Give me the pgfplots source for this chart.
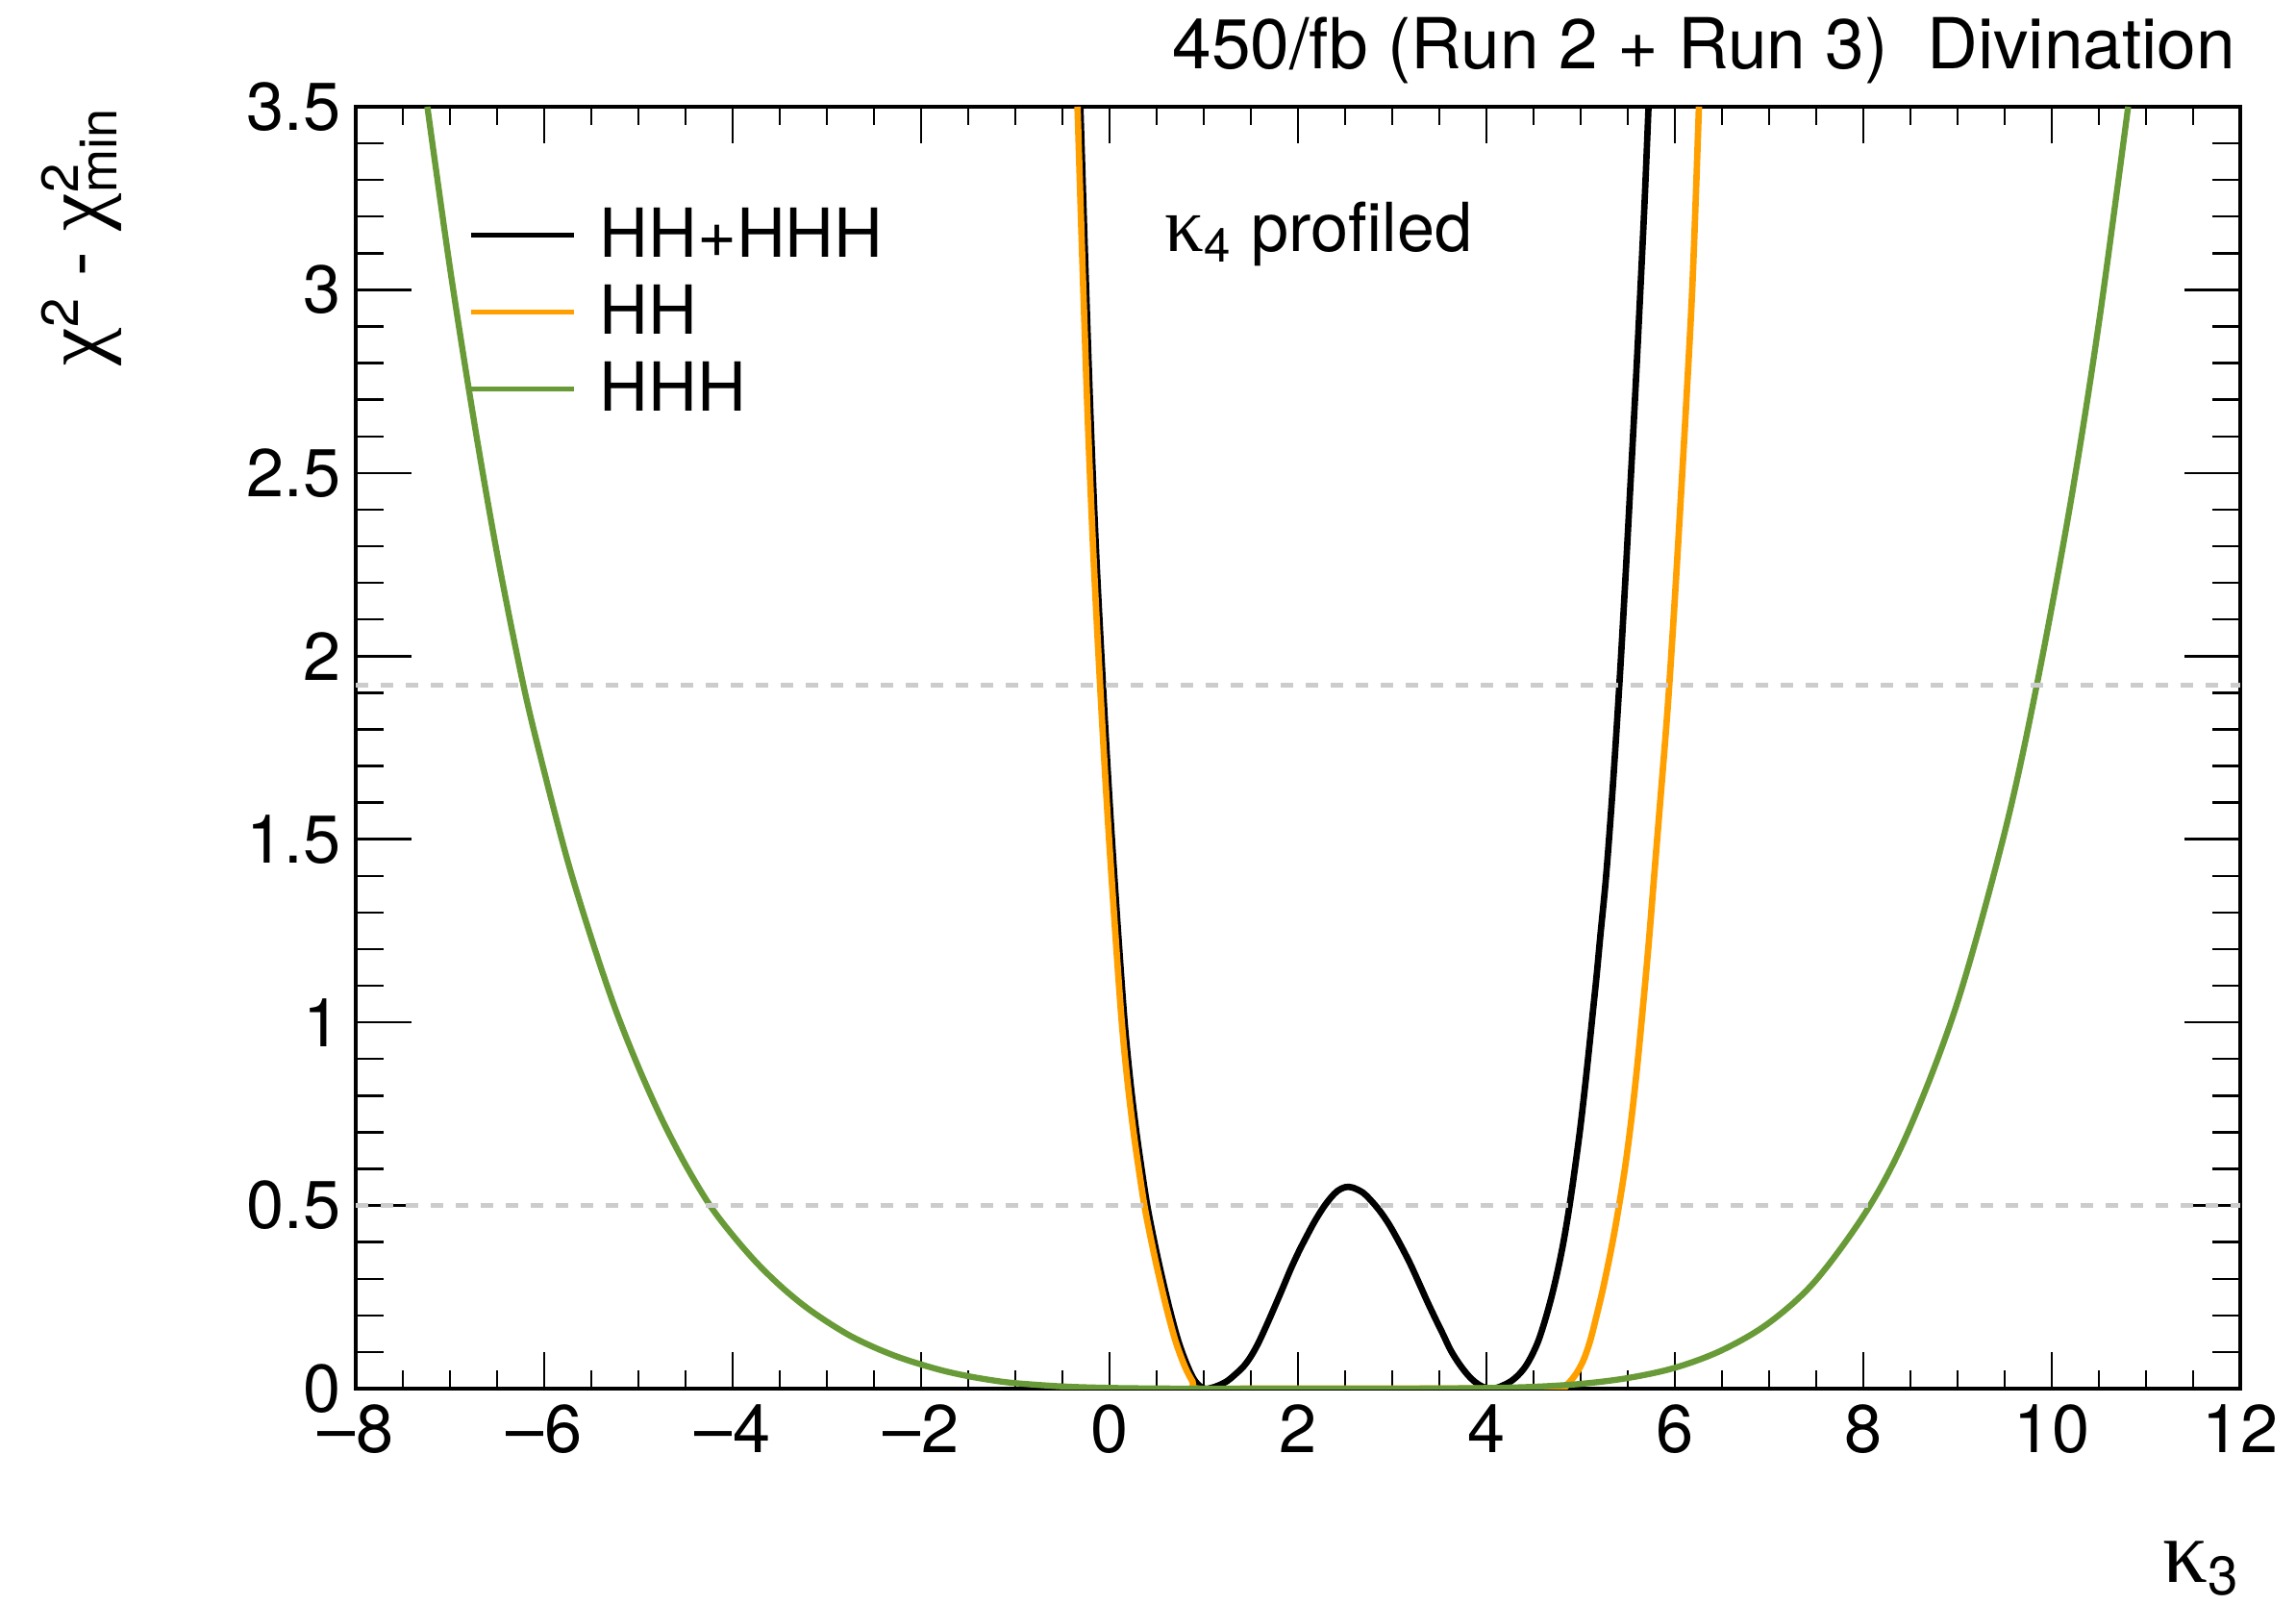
\documentclass[border=0pt]{standalone}
\usepackage{fontspec}
\setmainfont{TeX Gyre Heros}
\newfontfamily\greek[Scale=1.15]{Liberation Serif}
\usepackage{pgfplots}
\pgfplotsset{compat=1.18}
\definecolor{hhorange}{RGB}{255,159,0}
\definecolor{hhgreen}{RGB}{104,155,55}
\definecolor{dashgray}{RGB}{204,204,204}
\newcommand{\bigfont}{\fontsize{20}{24}\selectfont}

% HH+HHH
\pgfplotstableread{
k d
-0.31 3.50
-0.26 3.09
-0.20 2.64
-0.14 2.27
-0.07 1.92
-0.02 1.69
0.03 1.48
0.095 1.23
0.16 1.00
0.22 0.84
0.28 0.71
0.34 0.60
0.40 0.50
0.46 0.42
0.53 0.335
0.63 0.225
0.73 0.13
0.83 0.06
0.91 0.02
1.00 0.0
1.08 0.002
1.16 0.009
1.25 0.021
1.33 0.038
1.42 0.060
1.50 0.088
1.58 0.125
1.67 0.175
1.75 0.222
1.84 0.276
1.92 0.325
2.01 0.375
2.10 0.42
2.18 0.458
2.27 0.495
2.35 0.522
2.42 0.540
2.50 0.550
2.58 0.549
2.69 0.535
2.77 0.515
2.86 0.488
2.95 0.455
3.03 0.42
3.12 0.377
3.20 0.336
3.29 0.285
3.37 0.239
3.46 0.19
3.54 0.148
3.62 0.105
3.71 0.068
3.80 0.038
3.88 0.018
3.96 0.005
4.04 0.0
4.12 0.003
4.24 0.017
4.33 0.035
4.41 0.059
4.48 0.09
4.55 0.13
4.62 0.185
4.69 0.25
4.75 0.315
4.81 0.39
4.87 0.48
4.93 0.585
4.99 0.70
5.04 0.81
5.09 0.93
5.13 1.03
5.17 1.13
5.21 1.24
5.27 1.40
5.34 1.64
5.41 1.92
5.47 2.19
5.52 2.43
5.58 2.72
5.63 2.98
5.68 3.25
5.72 3.50
}\hhhhh

% HH
\pgfplotstableread{
k d
-0.34 3.50
-0.29 3.09
-0.23 2.64
-0.17 2.27
-0.10 1.92
-0.05 1.69
0.00 1.48
0.065 1.23
0.13 1.00
0.19 0.84
0.25 0.71
0.31 0.60
0.37 0.50
0.43 0.42
0.50 0.335
0.60 0.225
0.70 0.13
0.80 0.06
0.88 0.02
0.94 0.0
1.50 0.0
2.50 0.0
3.50 0.0
4.50 0.0
4.80 0.002
4.86 0.012
4.95 0.04
5.03 0.078
5.10 0.13
5.16 0.19
5.23 0.265
5.30 0.35
5.36 0.43
5.42 0.52
5.48 0.62
5.54 0.74
5.60 0.88
5.66 1.04
5.72 1.21
5.78 1.40
5.84 1.59
5.90 1.78
5.94 1.92
6.00 2.16
6.06 2.42
6.12 2.69
6.18 2.98
6.22 3.24
6.255 3.50
}\hh

% HHH
\pgfplotstableread{
k d
-7.24 3.50
-7.00 3.06
-6.75 2.65
-6.50 2.28
-6.22 1.92
-6.00 1.685
-5.75 1.44
-5.50 1.23
-5.25 1.04
-5.00 0.878
-4.75 0.735
-4.50 0.611
-4.24 0.50
-4.00 0.419
-3.75 0.345
-3.50 0.282
-3.25 0.228
-3.00 0.183
-2.75 0.144
-2.50 0.113
-2.25 0.087
-2.00 0.066
-1.75 0.048
-1.50 0.034
-1.25 0.023
-1.00 0.015
-0.50 0.006
0.00 0.002
0.50 0.0005
1.00 0.0
2.00 0.0
3.00 0.0
3.50 0.0006
4.00 0.0017
4.50 0.005
5.00 0.013
5.50 0.029
6.00 0.057
6.50 0.105
7.00 0.18
7.50 0.297
8.07 0.50
8.50 0.716
9.00 1.056
9.50 1.519
9.84 1.92
10.20 2.42
10.50 2.91
10.81 3.50
}\hhh

\begin{document}
\begin{tikzpicture}
\useasboundingbox (-3.70cm,-2.24cm) rectangle (20.18cm,14.44cm);
\begin{axis}[
  at={(0,0)}, anchor=south west,
  scale only axis, width=19.6cm, height=13.33cm,
  xmin=-8, xmax=12, ymin=0, ymax=3.5,
  axis line style={line width=1pt},
  xtick={-8,-6,...,12},
  xticklabels={\textendash8,\textendash6,\textendash4,\textendash2,0,2,4,6,8,10,12},
  ytick={0,0.5,...,3.5},
  yticklabels={0,0.5,1,1.5,2,2.5,3,3.5},
  minor x tick num=3, minor y tick num=4,
  tick align=inside,
  x tick style={line width=0.7pt, black, /pgfplots/major tick length=3.8mm, /pgfplots/minor tick length=1.9mm},
  y tick style={line width=0.7pt, black, /pgfplots/major tick length=5.8mm, /pgfplots/minor tick length=2.9mm},
  tick label style={font=\bigfont},
  xticklabel style={yshift=-0.4mm},
  yticklabel style={xshift=-0.3mm},
  legend cell align=left,
  legend image code/.code={\draw[#1] (0cm,0cm) -- (1.07cm,0cm);},
  legend style={draw=none, fill=none, font=\bigfont, anchor=north west,
    at={(0.0597,0.9175)}, inner sep=0pt, row sep=3.4mm, column sep=2.4mm,
    nodes={inner sep=0pt, text height=4.6mm, text depth=0mm}},
]
\addlegendimage{black, line width=1.4pt}\addlegendentry{HH+HHH}
\addlegendimage{hhorange, line width=1.4pt}\addlegendentry{HH}
\addlegendimage{hhgreen, line width=1.4pt}\addlegendentry{HHH}

\addplot[forget plot, black, line width=1.9pt, smooth, tension=0.55] table[x=k, y=d] {\hhhhh};
\addplot[forget plot, hhorange, line width=1.9pt, smooth, tension=0.55] table[x=k, y=d] {\hh};
\addplot[forget plot, hhgreen, line width=1.8pt, smooth, tension=0.55] table[x=k, y=d] {\hhh};

\addplot[forget plot, dashgray, line width=1.3pt, dash pattern=on 1.3mm off 1.3mm] coordinates {(-8,0.5) (12,0.5)};
\addplot[forget plot, dashgray, line width=1.3pt, dash pattern=on 1.3mm off 1.3mm] coordinates {(-8,1.92) (12,1.92)};
\end{axis}
\node[anchor=base east, font=\fontsize{20.8}{25}\selectfont, inner sep=0pt] at (19.56cm,13.72cm) {450/fb (Run 2 + Run 3)\ \ Divination};
\node[anchor=base west, font=\bigfont, inner sep=0pt] at (8.41cm,11.82cm) {{\greek κ}\textsubscript{4} profiled};
\node[anchor=base east, font=\fontsize{23}{27}\selectfont, inner sep=0pt] at (19.6cm,-2.01cm) {{\greek κ}\textsubscript{3}};
\node[anchor=base east, rotate=90, font=\fontsize{22}{26}\selectfont, inner sep=0pt] at (-2.62cm,13.33cm) {{\greek χ}\textsuperscript{2} - {\greek χ}\rlap{\textsuperscript{2}}\textsubscript{min}};
\end{tikzpicture}
\end{document}
